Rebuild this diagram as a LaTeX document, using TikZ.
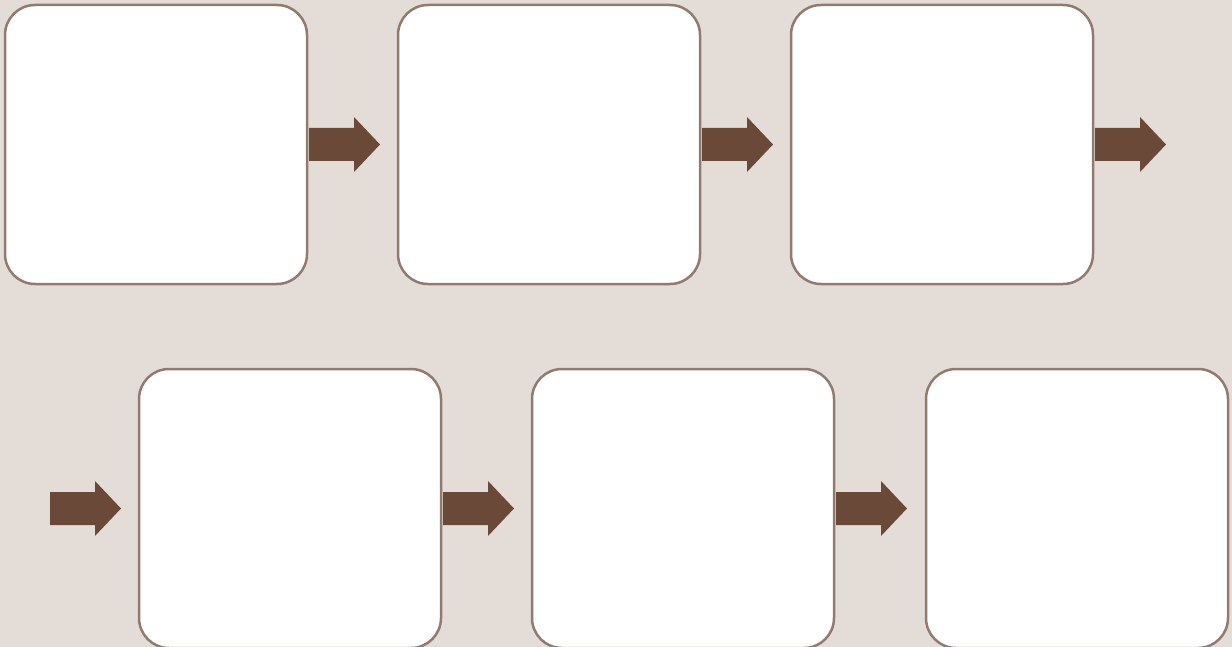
\documentclass[tikz,border=0pt]{standalone}
\definecolor{bgc}{HTML}{E4DDD7}
\definecolor{edgec}{HTML}{937A6F}
\definecolor{arrowc}{HTML}{6B4939}
\begin{document}
\begin{tikzpicture}[x=1pt,y=-1pt,
  card/.style={draw=edgec, line width=2.5pt, fill=white, rounded corners=30pt,
    minimum width=302pt, minimum height=279pt, inner sep=0pt},
  blockarrow/.pic={\fill[arrowc] (0,-16.5) -- (45,-16.5) -- (45,-27.5) -- (71,0)
     -- (45,27.5) -- (45,16.5) -- (0,16.5) -- cycle;}]
\fill[bgc] (0,0) rectangle (1232,647);
\useasboundingbox (0,0) rectangle (1232,647);
\begin{scope}
\clip (0,0) rectangle (1232,647);
\node[card] (b1) at (156,144.5) {};
\node[card] (b2) at (549,144.5) {};
\node[card] (b3) at (942,144.5) {};
\node[card] (b4) at (290,508.5) {};
\node[card] (b5) at (683,508.5) {};
\node[card] (b6) at (1077,508.5) {};
\end{scope}
\pic at ([xshift=0.75pt]b1.east) {blockarrow};
\pic at ([xshift=0.75pt]b2.east) {blockarrow};
\pic at ([xshift=0.75pt]b3.east) {blockarrow};
\pic at ([xshift=-87.75pt]b4.west) {blockarrow};
\pic at ([xshift=0.75pt]b4.east) {blockarrow};
\pic at ([xshift=0.75pt]b5.east) {blockarrow};
\end{tikzpicture}
\end{document}
